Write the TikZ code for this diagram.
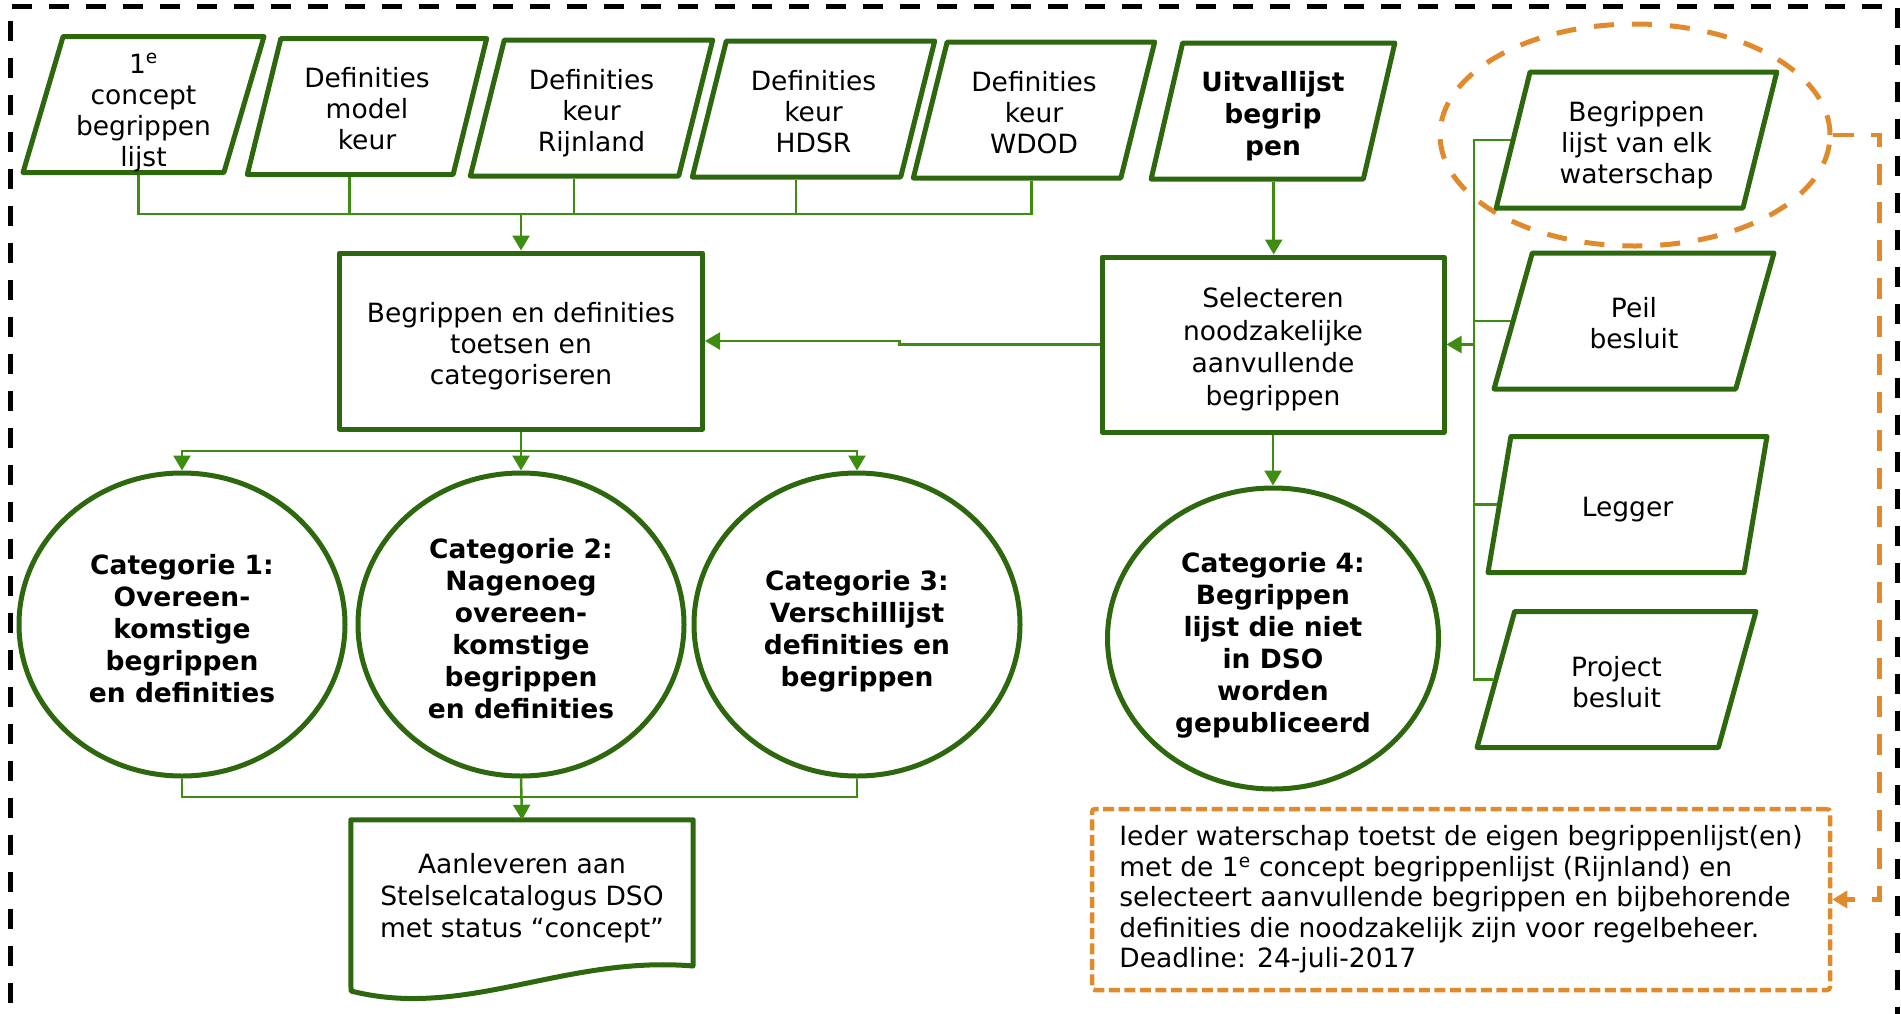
\documentclass[tikz,border=0pt]{standalone}
\usepackage{fontspec}
\setmainfont{DejaVu Sans}
\usetikzlibrary{shapes.geometric,arrows.meta,calc}
\definecolor{gborder}{RGB}{45,104,14}
\definecolor{gconn}{RGB}{62,140,16}
\definecolor{oline}{RGB}{224,138,46}
\newcommand\nfont{\fontsize{26.5}{31}\selectfont}
\newcommand\bfont{\fontsize{26.5}{32}\selectfont\bfseries}
\tikzset{
  pbox/.style={shape=trapezium, trapezium left angle=76, trapezium right angle=104,
    trapezium stretches=true, draw=gborder, line width=5pt, line join=round,
    minimum height=136, inner sep=0pt, align=center, font=\nfont, text depth=6pt},
  rbox/.style={rectangle, draw=gborder, line width=5pt, line join=round,
    inner sep=0pt, align=center, font=\nfont, text depth=6pt},
  cat/.style={ellipse, draw=gborder, line width=5pt, minimum width=326,
    minimum height=303, inner sep=0pt, align=center, font=\bfont, text depth=6pt},
  conn/.style={draw=gconn, line width=2.5pt},
  arr/.style={conn, -{Triangle[width=17pt,length=15pt]}},
  oell/.style={ellipse, draw=oline, line width=5pt, dash pattern=on 20pt off 18pt},
  obox/.style={rectangle, draw=oline, line width=4.5pt, dash pattern=on 11pt off 4.5pt,
    rounded corners=3pt, align=left, inner sep=0pt, font=\fontsize{26.5}{30.5}\selectfont},
  oconn/.style={draw=oline, line width=4.5pt, dash pattern=on 21pt off 17pt,
    -{Triangle[width=17pt,length=15pt]}},
  frame/.style={draw=black, line width=5pt, dash pattern=on 20pt off 17pt},
  docline/.style={draw=gborder, line width=5pt, line join=round}
}
\begin{document}
\begin{tikzpicture}[x=1pt,y=-1pt]
\useasboundingbox (0,0) rectangle (1901,1013);
% outer frame
\draw[frame] (10,1040) -- (10,6) -- (1897,6) -- (1897,1040);

% top inputs
\node[pbox, minimum width=241, text height=129pt] (b1) at (143.5,104.5) {1\textsuperscript{e}\\concept\\begrippen\\lijst};
\node[pbox, minimum width=240, text height=92pt] (b2) at (367,106.5) {Definities\\model\\keur};
\node[pbox, minimum width=243, text height=92pt] (b3) at (591.5,108) {Definities\\keur\\Rijnland};
\node[pbox, minimum width=243, text height=92pt] (b4) at (813.5,109) {Definities\\keur\\HDSR};
\node[pbox, minimum width=242, text height=92pt] (b5) at (1034,110) {Definities\\keur\\WDOD};
\node[pbox, minimum width=244, font=\bfont, text height=94pt] (b6) at (1273,111) {Uitvallijst\\begrip\\pen};

% right inputs
\node[oell, minimum width=390, minimum height=222] (ell) at (1635,135) {};
\node[pbox, minimum width=281, text height=92pt] (b7) at (1636.5,140) {Begrippen\\lijst van elk\\waterschap};
\node[pbox, minimum width=280, text height=61pt] (b8) at (1634,321) {Peil\\besluit};
\node[pbox, minimum width=279, text height=30pt] (b9) at (1627.5,504.5) {Legger};
\node[pbox, minimum width=279, text height=61pt] (b10) at (1616.5,679.5) {Project\\besluit};

% process boxes
\node[rbox, minimum width=363, minimum height=176, text height=92pt] (toets) at (521,341) {Begrippen en definities\\toetsen en\\categoriseren};
\node[rbox, minimum width=342, minimum height=175, font=\fontsize{26.5}{32.5}\selectfont, text height=127.5pt] (sel) at (1273,344.5) {Selecteren\\noodzakelijke\\aanvullende\\begrippen};

% categories
\node[cat, text height=162pt] (c1) at (182,624.5) {Categorie 1:\\Overeen-\\komstige\\begrippen\\en definities};
\node[cat, text height=194pt] (c2) at (521,624.5) {Categorie 2:\\Nagenoeg\\overeen-\\komstige\\begrippen\\en definities};
\node[cat, text height=130pt] (c3) at (857,624.5) {Categorie 3:\\Verschillijst\\definities en\\begrippen};
\node[cat, minimum width=331, minimum height=301, text height=194pt] (c4) at (1273,638.5) {Categorie 4:\\Begrippen\\lijst die niet\\in DSO\\worden\\gepubliceerd};

% document
\node[minimum width=342, minimum height=146, inner sep=0pt, align=center, font=\fontsize{26.5}{32}\selectfont, text height=94pt, text depth=6pt] (doc) at (522,893) {Aanleveren aan\\Stelselcatalogus DSO\\met status “concept”};
\draw[docline] (351,991) -- (doc.north west) -- (doc.north east) -- (693,966)
  .. controls (565,955) and (465,1020) .. (351,991) -- cycle;

% orange note
\node[obox, minimum width=738, minimum height=181] (obox) at (1461,899.5) {Ieder waterschap toetst de eigen begrippenlijst(en)\\met de 1\textsuperscript{e} concept begrippenlijst (Rijnland) en\\selecteert aanvullende begrippen en bijbehorende\\definities die noodzakelijk zijn voor regelbeheer.\\Deadline: 24-juli-2017};

% connectors top
\coordinate (tbus) at (521,214);
\draw[conn] ([xshift=16pt]b1.bottom side) |- (tbus);
\draw[conn] (b2.bottom side) |- (tbus);
\draw[conn] (b3.bottom side) |- (tbus);
\draw[conn] (b4.bottom side) |- (tbus);
\draw[conn] ([xshift=15pt]b5.bottom side) |- (tbus);
\draw[arr] (tbus) -- (toets.north);

\coordinate (b6s) at ([xshift=17pt]b6.bottom side);
\draw[arr] (b6s) -- (b6s |- sel.north);
\draw[arr] (sel.west) -- ++(-200,0) |- (toets.east);

% middle bus
\coordinate (mbus) at (521,451);
\draw[conn] (toets.south) -- (mbus);
\draw[arr] (mbus) -| (c1.north);
\draw[arr] (mbus) -| (c3.north);
\draw[arr] (mbus) -- (c2.north);
\draw[arr] (sel.south) -- (c4.north);

% bottom bus
\coordinate (bbus) at (521,797);
\draw[conn] (c1.south) |- (bbus);
\draw[conn] (c3.south) |- (bbus);
\draw[arr] (c2.south) -- (doc.north);

% right bus
\coordinate (rbus) at (1474,344.5);
\draw[conn] (b7.left side) -| (rbus);
\draw[conn] (b8.left side) -| (rbus);
\draw[conn] (b9.left side) -| (rbus);
\draw[conn] (b10.left side) -| (rbus);
\draw[arr] (rbus) -- (sel.east);

% orange connector
\draw[oconn] (ell.east) -- ++(47,0) |- (obox.east);
\end{tikzpicture}
\end{document}
